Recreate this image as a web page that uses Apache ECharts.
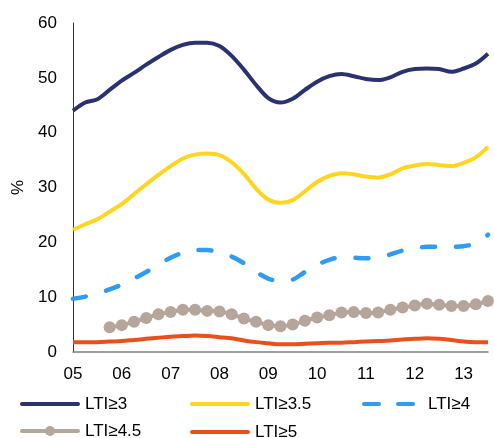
<!DOCTYPE html>
<html>
<head>
<meta charset="utf-8">
<script src="https://cdn.jsdelivr.net/npm/echarts@6/dist/echarts.min.js"></script>
<style>
html,body{margin:0;padding:0;background:#fff;}
#c{width:494px;height:438px;}
</style>
</head>
<body>
<div id="c"></div>
<script>
// Quarterly categories 2005Q1 .. 2013Q3
const years = ['05','06','07','08','09','10','11','12','13'];
const categories = [];
years.forEach(y => { for (let q = 1; q <= 4; q++) categories.push(y + ' Q' + q); });
categories.length = 35;

const seriesNames = ['LTI≥3', 'LTI≥3.5', 'LTI≥4', 'LTI≥4.5', 'LTI≥5'];

const lti3 = [44.0,45.5,46.1,47.8,49.5,50.9,52.4,53.8,55.1,56.0,56.4,56.4,
              55.8,54.0,51.5,48.7,46.3,45.5,46.2,47.8,49.3,50.3,50.7,50.3,
              49.8,49.6,50.1,51.1,51.6,51.7,51.6,51.1,51.7,52.6,54.4];
const lti35 = [22.3,23.3,24.2,25.6,27.0,28.8,30.6,32.3,33.9,35.3,36.0,36.2,
               35.9,34.6,32.5,29.8,27.8,27.2,27.7,29.3,31.0,32.1,32.6,32.4,
               32.0,31.8,32.4,33.5,34.0,34.3,34.1,33.9,34.5,35.5,37.4];
const lti4 = [9.7,10.1,10.7,11.4,12.3,13.4,14.6,15.9,17.2,18.1,18.6,18.6,
              18.1,17.4,16.2,14.6,13.4,12.9,13.2,14.6,15.9,16.8,17.3,17.2,
              17.1,17.1,17.8,18.5,18.9,19.2,19.2,19.2,19.3,19.8,21.4];
const lti45 = [null,null,null,4.5,4.9,5.5,6.2,6.9,7.3,7.7,7.7,7.5,
               7.4,6.9,6.1,5.5,4.9,4.7,5.0,5.7,6.3,6.7,7.2,7.3,
               7.1,7.2,7.7,8.1,8.5,8.8,8.6,8.4,8.4,8.7,9.3];
const lti5 = [1.8,1.8,1.8,1.9,2.0,2.2,2.4,2.6,2.8,2.9,3.0,2.9,
              2.7,2.5,2.1,1.8,1.6,1.4,1.4,1.5,1.6,1.7,1.7,1.8,
              1.9,2.0,2.1,2.3,2.4,2.5,2.4,2.2,1.9,1.8,1.8];

const colors = ['#2B3271', '#FFD51F', '#2F9BF2', '#B5A59B', '#E8511B'];
const font = 'Liberation Sans, Arial, sans-serif';

const solidIcon = 'path://M2,0 H58 A2,2 0 0 1 58,4 H2 A2,2 0 0 1 2,0 Z';
const dashIcon = 'path://M2,0 H17 A2,2 0 0 1 17,4 H2 A2,2 0 0 1 2,0 Z M36,0 H51 A2,2 0 0 1 51,4 H36 A2,2 0 0 1 36,0 Z';
const markerIcon = 'path://M2,3 H58 A2,2 0 0 1 58,7 H2 A2,2 0 0 1 2,3 Z M25,5 A5,5 0 1 1 35,5 A5,5 0 1 1 25,5 Z';

function mkLegend(name, left, top, icon, w, h, textPad) {
  return {
    data: [{ name: name, icon: icon }], left: left, top: top, padding: 0,
    itemWidth: w, itemHeight: h,
    textStyle: { fontFamily: font, fontSize: 17, color: '#000', lineHeight: 18,
                 padding: [0, 0, 0, textPad || 0] }
  };
}

const chart = echarts.init(document.getElementById('c'));
chart.setOption({
  animation: false,
  backgroundColor: '#fff',
  grid: { left: 73, right: 6, top: 23, bottom: 86, containLabel: false },
  legend: [
    mkLegend(seriesNames[0], 20, 395, solidIcon, 60, 4),
    mkLegend(seriesNames[1], 190, 395, solidIcon, 60, 4),
    mkLegend(seriesNames[2], 362, 395, dashIcon, 53, 4, 8),
    mkLegend(seriesNames[3], 20, 422, markerIcon, 60, 10),
    mkLegend(seriesNames[4], 190, 423, solidIcon, 60, 4)
  ],
  xAxis: {
    type: 'category', data: categories, boundaryGap: false,
    axisLine: { lineStyle: { color: '#7f7f7f', width: 1.5 } },
    axisTick: { show: false },
    axisLabel: {
      interval: 3, margin: 14, fontFamily: font, fontSize: 17, color: '#000',
      formatter: v => v.slice(0, 2)
    },
    splitLine: { show: false }
  },
  yAxis: {
    type: 'value', min: 0, max: 60, interval: 10,
    name: '%', nameLocation: 'middle', nameGap: 41, nameRotate: 90,
    nameTextStyle: { fontFamily: font, fontSize: 17, color: '#000' },
    axisLine: { show: true, lineStyle: { color: '#333', width: 1 } },
    axisTick: { show: false },
    axisLabel: { margin: 16, fontFamily: font, fontSize: 17, color: '#000' },
    splitLine: { show: false }
  },
  series: [
    { name: seriesNames[0], type: 'line', data: lti3, smooth: 0.3, symbol: 'none',
      lineStyle: { color: colors[0], width: 4 }, itemStyle: { color: colors[0] } },
    { name: seriesNames[1], type: 'line', data: lti35, smooth: 0.3, symbol: 'none',
      lineStyle: { color: colors[1], width: 4 }, itemStyle: { color: colors[1] } },
    { name: seriesNames[2], type: 'line', data: lti4, smooth: 0.3, symbol: 'none',
      lineStyle: { color: colors[2], width: 4.5, type: [13, 21], cap: 'round' }, itemStyle: { color: colors[2] } },
    { name: seriesNames[3], type: 'line', data: lti45, smooth: 0.3, symbol: 'circle', symbolSize: 12,
      showAllSymbol: true,
      lineStyle: { color: colors[3], width: 4 }, itemStyle: { color: colors[3] } },
    { name: seriesNames[4], type: 'line', data: lti5, smooth: 0.3, symbol: 'none',
      lineStyle: { color: colors[4], width: 4 }, itemStyle: { color: colors[4] } }
  ]
});
</script>
</body>
</html>
